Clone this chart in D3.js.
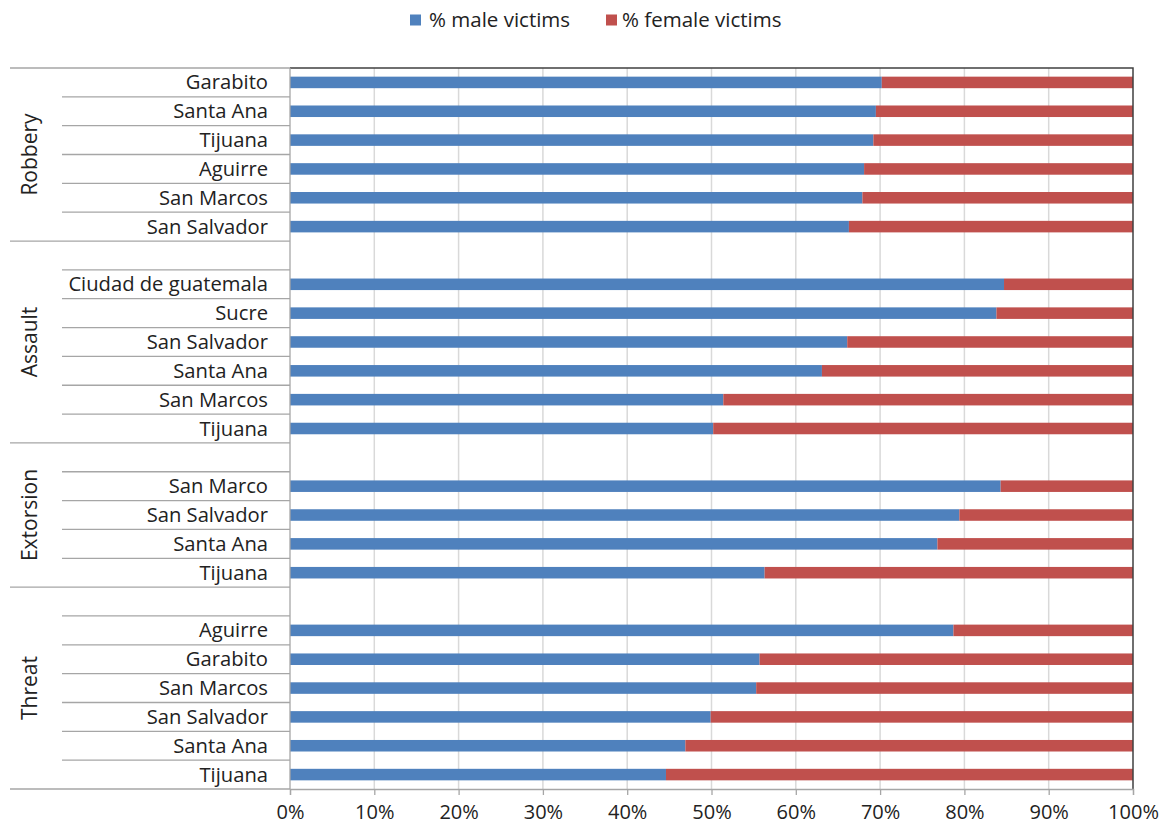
<!DOCTYPE html>
<html lang="en">
<head>
<meta charset="utf-8">
<title>Victims by sex</title>
<style>
  body { margin: 0; background: #fff; }
  text { font-family: "Open Sans", "Noto Sans", sans-serif; fill: #222; }
  .grid line { stroke: #d9d9d9; stroke-width: 1.5px; }
  .sep { stroke: #a6a6a6; stroke-width: 1.3px; }
</style>
</head>
<body>
<svg id="chart" width="1166" height="829"></svg>
<script src="https://d3js.org/d3.v7.min.js"></script>
<script>
// one entry per row, top to bottom; "" rows are blank spacers
var rowGroup = ["Robbery","Robbery","Robbery","Robbery","Robbery","Robbery",
                "Assault","Assault","Assault","Assault","Assault","Assault","Assault",
                "Extorsion","Extorsion","Extorsion","Extorsion","Extorsion",
                "Threat","Threat","Threat","Threat","Threat","Threat","Threat"];
var rowLabel = ["Garabito","Santa Ana","Tijuana","Aguirre","San Marcos","San Salvador",
                "","Ciudad de guatemala","Sucre","San Salvador","Santa Ana","San Marcos","Tijuana",
                "","San Marco","San Salvador","Santa Ana","Tijuana",
                "","Aguirre","Garabito","San Marcos","San Salvador","Santa Ana","Tijuana"];
var maleShare = [70.2,69.5,69.2,68.1,67.9,66.3,
                 null,84.7,83.8,66.1,63.1,51.4,50.2,
                 null,84.3,79.4,76.8,56.3,
                 null,78.7,55.7,55.3,49.9,46.9,44.6];
var femaleShare = [29.8,30.5,30.8,31.9,32.1,33.7,
                   null,15.3,16.2,33.9,36.9,48.6,49.8,
                   null,15.7,20.6,23.2,43.7,
                   null,21.3,44.3,44.7,50.1,53.1,55.4];
var groups = ["Robbery","Assault","Extorsion","Threat"];
var seriesNames = ["% male victims","% female victims"];
var seriesColors = ["#4f81bd","#c0504d"];
var xTicks = [0,10,20,30,40,50,60,70,80,90,100];

var svg = d3.select("#chart");
var plotLeft = 290, plotRight = 1133, plotTop = 68, plotBottom = 789;

var rows = rowLabel.map(function(d, i) {
  return { i: i, label: d, group: rowGroup[i], male: maleShare[i], female: femaleShare[i] };
});

var x = d3.scaleLinear().domain([0, 100]).range([plotLeft, plotRight]);
var y = d3.scaleBand().domain(d3.range(rows.length)).range([plotTop, plotBottom])
    .paddingInner(0.6).paddingOuter(0.3);
var step = y.step();
var gap = y.paddingInner() * step / 2;

// gridlines
svg.append("g").attr("class", "grid")
  .selectAll("line").data(xTicks.slice(1, -1)).enter().append("line")
    .attr("x1", function(d) { return x(d); }).attr("x2", function(d) { return x(d); })
    .attr("y1", plotTop).attr("y2", plotBottom);

// bars
var barData = rows.filter(function(r) { return r.male !== null; });
var bars = svg.append("g");
bars.selectAll("rect.m").data(barData).enter().append("rect")
    .attr("x", x(0))
    .attr("y", function(d) { return y(d.i); })
    .attr("width", function(d) { return x(d.male) - x(0); })
    .attr("height", y.bandwidth())
    .attr("fill", seriesColors[0]);
bars.selectAll("rect.f").data(barData).enter().append("rect")
    .attr("x", function(d) { return x(d.male); })
    .attr("y", function(d) { return y(d.i); })
    .attr("width", function(d) { return x(d.male + d.female) - x(d.male); })
    .attr("height", y.bandwidth())
    .attr("fill", seriesColors[1]);

// plot border: dark top and right
svg.append("path")
  .attr("d", "M" + plotLeft + "," + plotTop + "H" + plotRight + "V" + plotBottom)
  .attr("fill", "none").attr("stroke", "#404040").attr("stroke-width", 1.5);

// x axis
var xAxis = svg.append("g")
  .attr("transform", "translate(0," + plotBottom + ")")
  .call(d3.axisBottom(x).tickValues(xTicks).tickSize(6).tickPadding(10)
        .tickFormat(function(d) { return d + "%"; }));
xAxis.select(".domain").attr("stroke", "#a6a6a6").attr("stroke-width", 1.3);
xAxis.selectAll(".tick line").attr("stroke", "#a6a6a6").attr("stroke-width", 1.3);
xAxis.selectAll("text").attr("font-size", 20).attr("fill", "#222")
  .style("font-family", "'Open Sans', sans-serif");

// vertical axis line
svg.append("line").attr("class", "sep")
  .attr("x1", plotLeft).attr("x2", plotLeft).attr("y1", plotTop).attr("y2", plotBottom);

// row separators inside groups, group separators spanning the full label area
var sepG = svg.append("g");
rows.forEach(function(r, i) {
  if (i === 0) return;
  var yy = y(i) - gap;
  var isGroupEdge = rowGroup[i] !== rowGroup[i - 1];
  sepG.append("line").attr("class", "sep")
    .attr("x1", isGroupEdge ? 10 : 62).attr("x2", plotLeft)
    .attr("y1", yy).attr("y2", yy);
});
[plotTop, plotBottom].forEach(function(yy) {
  sepG.append("line").attr("class", "sep")
    .attr("x1", 10).attr("x2", plotLeft).attr("y1", yy).attr("y2", yy);
});

// row labels
svg.append("g").selectAll("text").data(rows).enter().append("text")
  .attr("x", 268)
  .attr("y", function(d) { return y(d.i) + y.bandwidth() / 2; })
  .attr("dy", "0.35em")
  .attr("text-anchor", "end")
  .attr("font-size", 20.2)
  .text(function(d) { return d.label; });

// group labels
svg.append("g").selectAll("text").data(groups).enter().append("text")
  .attr("transform", function(g) {
    var idx = rows.filter(function(r) { return r.group === g; }).map(function(r) { return r.i; });
    var y0 = y(d3.min(idx)) - gap;
    var y1 = y(d3.max(idx)) + y.bandwidth() + gap;
    if (d3.min(idx) === 0) y0 = plotTop;
    if (d3.max(idx) === rows.length - 1) y1 = plotBottom;
    return "translate(30," + ((y0 + y1) / 2) + ") rotate(-90)";
  })
  .attr("dy", "0.35em")
  .attr("text-anchor", "middle")
  .attr("font-size", 21)
  .text(function(g) { return g; });

// legend
var legend = svg.append("g").attr("transform", "translate(410,20)");
var legendX = [0, 196];
seriesNames.forEach(function(name, i) {
  var item = legend.append("g").attr("transform", "translate(" + legendX[i] + ",0)");
  item.append("rect").attr("x", 0).attr("y", -5.5).attr("width", 11).attr("height", 11)
    .attr("fill", seriesColors[i]);
  item.append("text").attr("x", i === 0 ? 19 : 16).attr("y", 0).attr("dy", "0.35em")
    .attr("font-size", 20.5).text(name);
});
</script>
</body>
</html>
